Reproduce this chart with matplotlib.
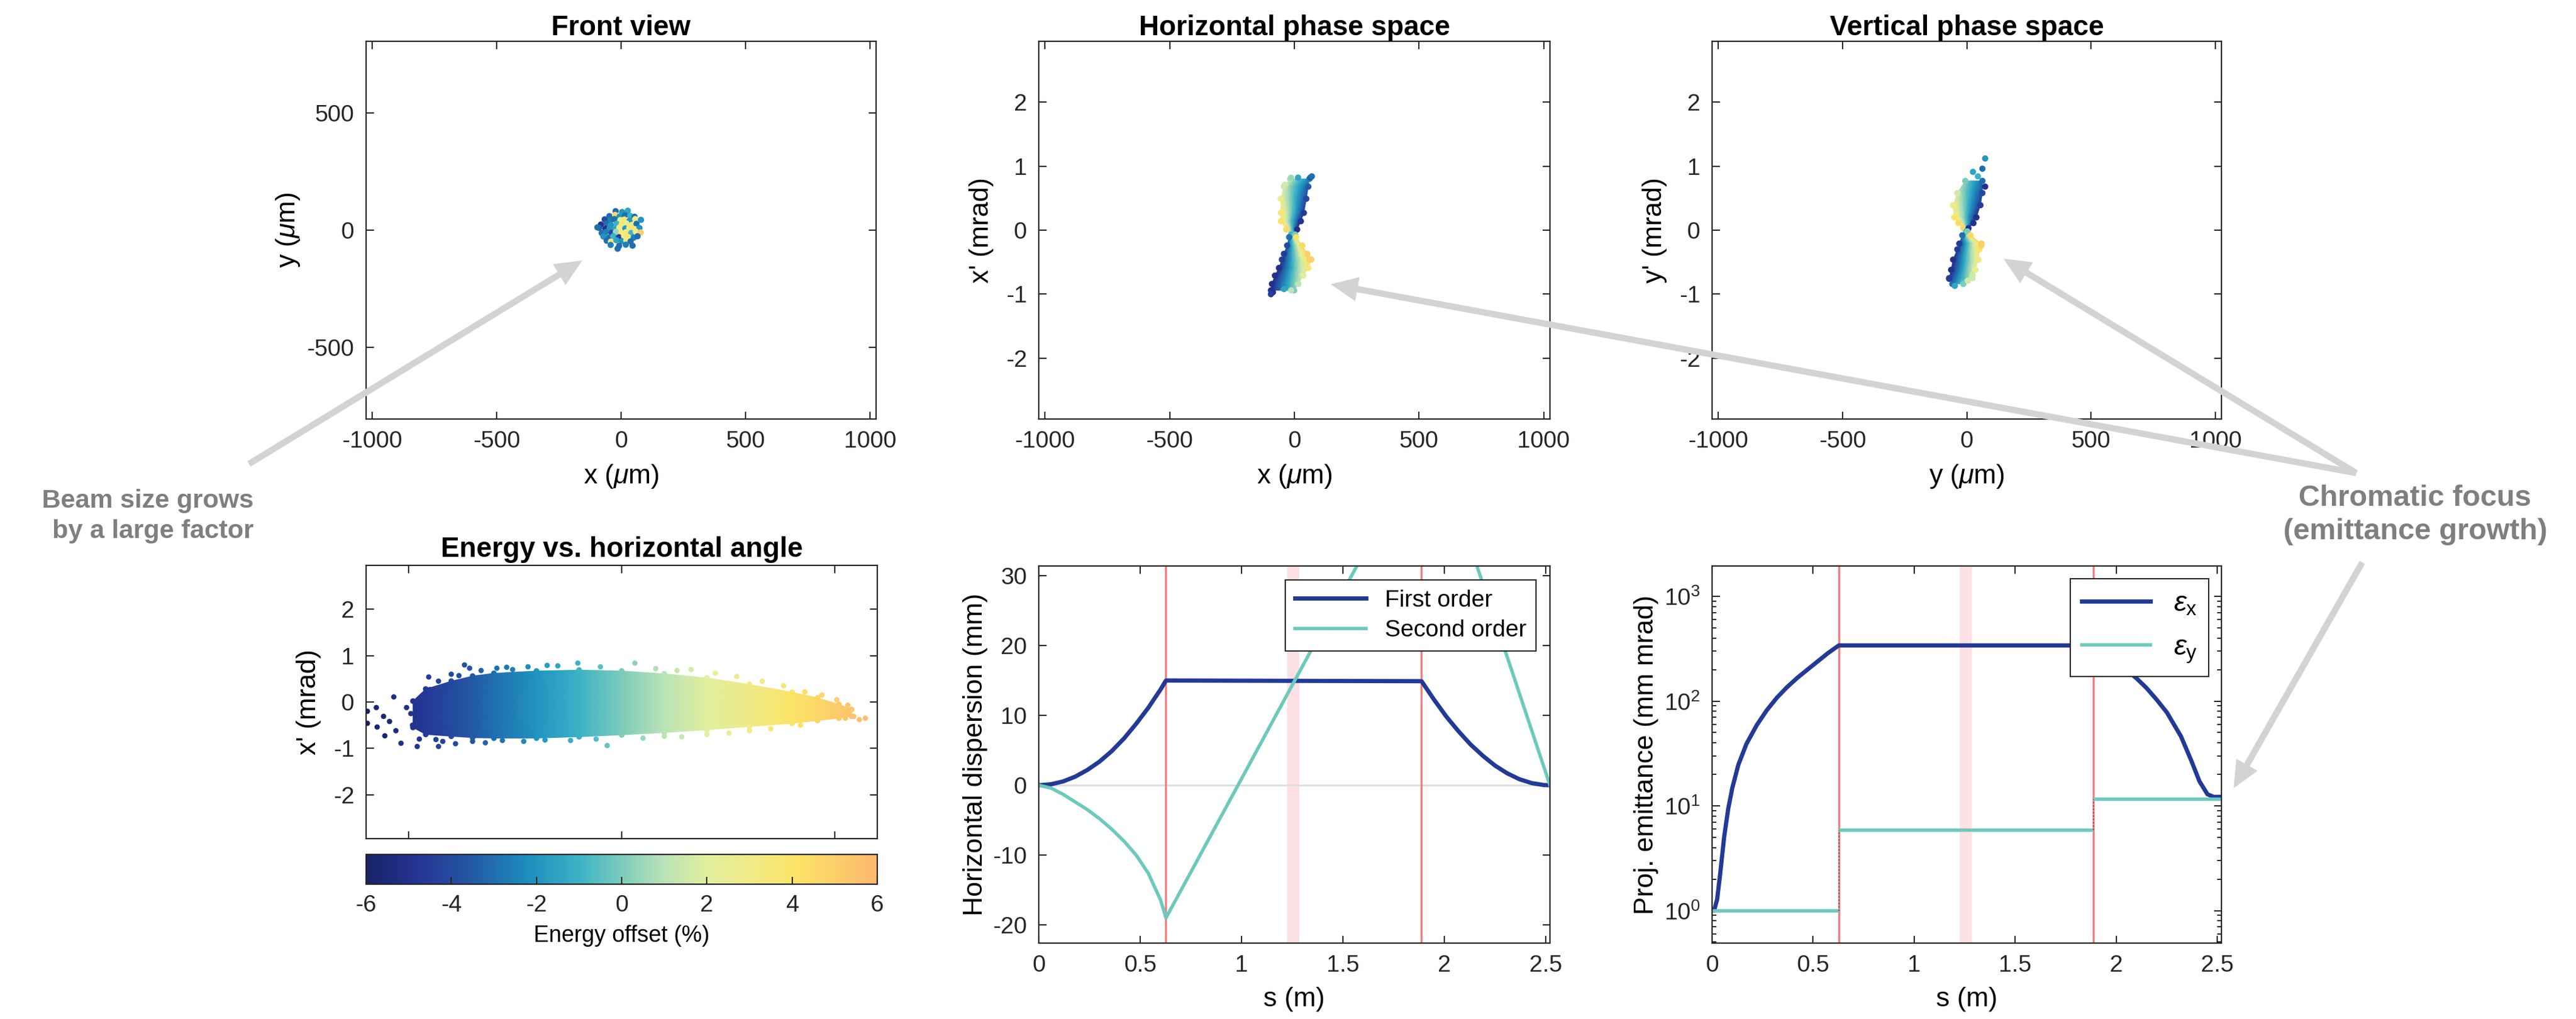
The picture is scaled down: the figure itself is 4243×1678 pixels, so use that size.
import numpy as np
import matplotlib
matplotlib.use('Agg')
import matplotlib.pyplot as plt
from matplotlib.colors import LinearSegmentedColormap, Normalize
from matplotlib.cm import ScalarMappable
from matplotlib.patches import FancyArrowPatch
from matplotlib.lines import Line2D

plt.rcParams['font.family'] = ['Liberation Sans', 'DejaVu Sans']
plt.rcParams['mathtext.fontset'] = 'custom'
plt.rcParams['mathtext.rm'] = 'Liberation Sans'
plt.rcParams['mathtext.it'] = 'Liberation Sans:italic'
plt.rcParams['axes.unicode_minus'] = False

# ---- particle data (energy offset in % gives the colour) ----
front_x = [-22, 4, 27,
           -47, -24, -6, 16, 37, 54,
           -66, -43, -27, -3, 13, 34, 57,
           -81, -58, -41, -18, 2, 21, 42, 62,
           -88, -63, -46, -24, -7, 17, 33, 56, 74,
           -78, -61, -38, -21, 1, 19, 41, 59, 79,
           -71, -48, -31, -9, 12, 28, 51, 66,
           -58, -41, -19, 2, 21, 38,
           -42, -8, 19, 46,
           -14, -95, 80]
front_y = [81, 77, 83,
           60, 65, 58, 63, 61, 57,
           46, 41, 47, 43, 45, 40, 47,
           24, 28, 23, 27, 25, 29, 22, 27,
           10, 6, 9, 5, 11, 7, 10, 4, 9,
           -12, -8, -11, -7, -13, -9, -12, -6, -10,
           -27, -31, -26, -30, -25, -29, -32, -26,
           -45, -49, -43, -47, -44, -48,
           -63, -67, -62, -66,
           -79, 12, 44]
front_e = [-3, -2, -1.5,
           -3, 4.5, -2, -3, -1, -3,
           -4, -2.5, -3, 2, 3.5, -2, 3,
           -5, -3, -2, -1, 3.5, 2.5, 3.5, -3,
           -3.5, -5, -2, -1.5, 3, -2, 3.5, 3, -2,
           -3, -2.5, -4, 0.5, 3.5, 3.5, -1, 3, 5,
           -2, -3, -1, -4.5, 3, 3.5, -2.5, -3,
           -3, 3.5, -1.5, -2, 3, -3,
           -2.5, -3, -2.5, -3,
           -3, -3, -2]

# horizontal phase space, rows of (x', left x, right x) for both lobes
hx_up_xp = [0.80, 0.68, 0.49, 0.27, 0.14, 0.01, -0.07]
hx_up_left = [-17, -42, -55, -54, -54, -33, -13]
hx_up_right = [60, 56, 48, 38, 26, 11, 3]
hx_up_eleft = [1.0, 1.5, 2.5, 3.5, 4.0, 4.5, 0.0]
hx_up_eright = [-2.5, -3.5, -4.0, -4.5, -5.0, -5.0, -1.0]

hx_lo_xp = [-0.07, -0.11, -0.24, -0.37, -0.46, -0.59, -0.71, -0.84, -0.94]
hx_lo_left = [-13, -21, -29, -42, -50, -62, -78, -90, -94]
hx_lo_right = [3, 7, 32, 52, 68, 56, 36, 16, -1]
hx_lo_eleft = [-1.0, -3.0, -4.0, -4.5, -4.5, -5.0, -5.0, -5.0, -5.0]
hx_lo_eright = [0.0, 4.0, 4.5, 5.0, 5.0, 3.5, 2.0, 1.0, 0.0]

hx_stray_x = [-13, 15, 64, -37, -86, -42, -13, 60, -94, 70]
hx_stray_xp = [0.82, 0.82, 0.82, 0.71, -0.97, -0.92, -0.94, -0.45, -1.0, 0.84]
hx_stray_e = [0.5, -1.5, -3.5, 1.5, -5.0, -1.5, 1.0, 5.0, -4.5, -3.0]

# vertical phase space
vy_up_yp = [0.77, 0.58, 0.39, 0.20, 0.11, 0.03, -0.02]
vy_up_left = [-6, -38, -55, -50, -34, -14, -2]
vy_up_right = [63, 63, 55, 39, 27, 7, 2]
vy_up_eleft = [0.0, 1.5, 3.0, 4.0, 4.5, 4.5, 0.0]
vy_up_eright = [-3.0, -4.0, -4.5, -5.0, -5.0, -5.0, -1.0]

vy_lo_yp = [-0.02, -0.08, -0.21, -0.30, -0.46, -0.62, -0.75, -0.84]
vy_lo_left = [-2, -18, -30, -38, -55, -63, -71, -58]
vy_lo_right = [2, 15, 59, 51, 47, 35, 23, -14]
vy_lo_eleft = [-1.0, -3.0, -4.5, -4.5, -5.0, -5.0, -4.5, -3.0]
vy_lo_eright = [0.0, 4.5, 5.0, 4.0, 3.0, 2.5, 1.5, 0.0]

vy_stray_y = [74, 63, 25, 45, 74, -48, -71, 4, 23, 59]
vy_stray_yp = [1.12, 0.96, 0.91, 0.84, 0.68, -0.87, -0.76, -0.79, -0.70, -0.24]
vy_stray_e = [-2.0, -3.0, -1.5, -1.0, -5.0, -1.5, -4.5, 1.5, 1.5, 5.0]

# energy vs. horizontal angle: dense core envelope plus loose particles
core_e = [-4.9, -4.6, -4.0, -3.5, -3.0, -2.0, -1.0, 0.0, 1.0, 2.0, 3.0, 4.0, 4.6, 5.1, 5.4]
core_top = [0.02, 0.28, 0.45, 0.56, 0.62, 0.67, 0.69, 0.67, 0.61, 0.52, 0.38, 0.21, 0.09, -0.05, -0.16]
core_bot = [-0.55, -0.70, -0.74, -0.77, -0.78, -0.78, -0.75, -0.71, -0.66, -0.60, -0.53, -0.46, -0.40, -0.35, -0.31]

loose_e = [-5.97, -5.97, -5.76, -5.59, -5.56, -5.74, -5.35, -5.18, -5.05, -4.91, -4.80, -4.71,
           -4.53, -4.50, -4.36, -4.30, -4.23, -4.10, -3.82, -3.69, -3.57, -2.93, -2.56, -1.75,
           -1.03, 0.31, 1.63, -0.34, 1.41, 2.52, 4.70, 5.05, 5.31, 5.25, 5.45, 5.72, 5.58,
           -4.2, -3.9, -3.5, -3.2, -2.8, -2.3, -1.8, -1.2, -0.6, 0.5, 1.0, 2.0, 3.0, 3.5, 4.2,
           -4.3, -4.0, -3.3, -2.7, -2.2, -1.5, -0.5, 0.8, 1.3, 2.2, 2.7, 3.3, 3.8, 4.3,
           -5.3, -4.95, -4.75, -5.45, -4.65]
loose_xp = [-0.46, -0.20, -0.12, -0.31, -0.73, -0.54, 0.11, -0.89, -0.12, -0.50, -0.96, 0.11,
            0.54, 0.27, -0.81, -0.96, -0.35, 0.35, 0.57, 0.80, 0.73, 0.73, 0.70, 0.79,
            0.84, 0.84, 0.70, -0.94, -0.75, -0.67, 0.15, 0.05, -0.07, -0.35, -0.31, -0.35, -0.38,
            -0.85, -0.90, -0.85, -0.88, -0.83, -0.85, -0.82, -0.83, -0.80, -0.78, -0.74, -0.70,
            -0.62, -0.58, -0.50,
            0.45, 0.60, 0.68, 0.75, 0.76, 0.78, 0.76, 0.72, 0.68, 0.62, 0.55, 0.45, 0.35, 0.22,
            -0.62, -0.25, -0.80, -0.42, 0.02]

# ---- beamline functions ----
disp_s1 = [0, 0.06, 0.12, 0.18, 0.24, 0.30, 0.36, 0.42, 0.48, 0.54, 0.60, 0.627,
           1.887, 1.95, 2.01, 2.07, 2.13, 2.19, 2.25, 2.31, 2.37, 2.43, 2.49, 2.52]
disp_first = [0, 0.14, 0.55, 1.24, 2.2, 3.4, 4.9, 6.7, 8.8, 11.1, 13.7, 15.0,
              14.9, 12.2, 9.8, 7.7, 5.8, 4.2, 2.8, 1.7, 0.86, 0.31, 0.03, 0.0]
disp_s2 = [0, 0.06, 0.12, 0.18, 0.24, 0.30, 0.36, 0.42, 0.48, 0.54, 0.60, 0.627,
           0.982, 1.887, 2.0, 2.16, 2.52]
disp_second = [0, -0.4, -1.3, -2.4, -3.5, -4.8, -6.3, -8.0, -10.0, -12.6, -16.4, -19.0,
               0.0, 48.5, 45.0, 31.4, 0.0]

emit_s = [0, 0.01, 0.025, 0.04, 0.06, 0.08, 0.10, 0.13, 0.17, 0.221, 0.271, 0.321, 0.371,
          0.422, 0.472, 0.522, 0.572, 0.627, 1.887, 1.95, 2.0, 2.049, 2.10, 2.15, 2.20,
          2.25, 2.32, 2.371, 2.411, 2.451, 2.481, 2.52]
emit_x = [1.0, 1.0, 1.28, 2.24, 5.1, 9.4, 14.8, 24.7, 39, 59, 82, 108, 136,
          167, 200, 239, 286, 340, 340, 309, 243, 199, 165, 133, 103,
          78, 46, 27, 17.2, 12.9, 12.2, 12.2]
emit_y_edges = [0, 0.627, 1.887, 2.52]
emit_y = [1.0, 5.85, 11.6]

dipole_s = [0.627, 1.887]
band_s = [1.225, 1.285]

# ---- styling ----
cmap = LinearSegmentedColormap.from_list('energy', [
    (0.00, '#172266'), (0.10, '#253494'), (0.20, '#2356a3'), (0.32, '#1d8fbf'),
    (0.42, '#3db4c6'), (0.50, '#7ccbbb'), (0.58, '#b8e2b8'), (0.67, '#e3ef9d'),
    (0.76, '#f1ea85'), (0.84, '#fbe466'), (1.00, '#fdb86e')])
norm = Normalize(-6, 6)
navy = '#233a95'
teal = '#6dc9bc'
red = '#f27f80'
ink = '#262626'
TICK = 28
LABEL = 32
TITLE = 33

W, H = 4243, 1678
fig = plt.figure(figsize=(W / 100, H / 100), dpi=100, facecolor='white')


def box(l, t, r, b):
    return [l / W, 1 - b / H, (r - l) / W, (b - t) / H]


def style(ax):
    ax.tick_params(direction='in', top=True, right=True, length=9, width=1.5,
                   labelsize=TICK, colors=ink, pad=14)
    ax.tick_params(which='minor', direction='in', top=True, right=True, length=5, width=1.2)
    for sp in ax.spines.values():
        sp.set_linewidth(1.6)
        sp.set_color(ink)


def lobe(ax, yv, left, right, eleft, eright):
    frac = np.linspace(0, 1, 7)
    yv, left, right = np.array(yv), np.array(left), np.array(right)
    eleft, eright = np.array(eleft), np.array(eright)
    X = left[:, None] + (right - left)[:, None] * frac
    Y = np.repeat(yv[:, None], len(frac), axis=1)
    C = eleft[:, None] + (eright - eleft)[:, None] * frac
    ax.pcolormesh(X, Y, C, cmap=cmap, norm=norm, shading='gouraud')
    # particles sitting on the outline of the lobe
    ax.scatter(left, yv, c=eleft, cmap=cmap, norm=norm, s=55, linewidths=0)
    ax.scatter(right, yv, c=eright, cmap=cmap, norm=norm, s=55, linewidths=0)


# front view
ax1 = fig.add_axes(box(603, 68, 1443, 690))
ax1.scatter(front_x, front_y, c=front_e, cmap=cmap, norm=norm, s=55, linewidths=0)
ax1.set_xlim(-1025, 1025)
ax1.set_ylim(-805, 805)
ax1.set_xticks([-1000, -500, 0, 500, 1000])
ax1.set_yticks([-500, 0, 500])
ax1.set_title('Front view', fontsize=TITLE, fontweight='bold', pad=7)
ax1.set_xlabel(r'x ($\mu$m)', fontsize=LABEL, labelpad=12)
ax1.set_ylabel(r'y ($\mu$m)', fontsize=LABEL, labelpad=6)

# horizontal phase space
ax2 = fig.add_axes(box(1711, 68, 2553, 690))
lobe(ax2, hx_up_xp, hx_up_left, hx_up_right, hx_up_eleft, hx_up_eright)
lobe(ax2, hx_lo_xp, hx_lo_left, hx_lo_right, hx_lo_eleft, hx_lo_eright)
ax2.scatter(hx_stray_x, hx_stray_xp, c=hx_stray_e, cmap=cmap, norm=norm, s=55, linewidths=0)
ax2.set_xlim(-1025, 1025)
ax2.set_ylim(-2.95, 2.95)
ax2.set_xticks([-1000, -500, 0, 500, 1000])
ax2.set_yticks([-2, -1, 0, 1, 2])
ax2.set_title('Horizontal phase space', fontsize=TITLE, fontweight='bold', pad=7)
ax2.set_xlabel(r'x ($\mu$m)', fontsize=LABEL, labelpad=12)
ax2.set_ylabel("x' (mrad)", fontsize=LABEL, labelpad=14)

# vertical phase space
ax3 = fig.add_axes(box(2820, 68, 3659, 690))
lobe(ax3, vy_up_yp, vy_up_left, vy_up_right, vy_up_eleft, vy_up_eright)
lobe(ax3, vy_lo_yp, vy_lo_left, vy_lo_right, vy_lo_eleft, vy_lo_eright)
ax3.scatter(vy_stray_y, vy_stray_yp, c=vy_stray_e, cmap=cmap, norm=norm, s=55, linewidths=0)
ax3.set_xlim(-1025, 1025)
ax3.set_ylim(-2.95, 2.95)
ax3.set_xticks([-1000, -500, 0, 500, 1000])
ax3.set_yticks([-2, -1, 0, 1, 2])
ax3.set_title('Vertical phase space', fontsize=TITLE, fontweight='bold', pad=7)
ax3.set_xlabel(r'y ($\mu$m)', fontsize=LABEL, labelpad=12)
ax3.set_ylabel("y' (mrad)", fontsize=LABEL, labelpad=14)

# energy vs. angle
ax4 = fig.add_axes(box(603, 931, 1445, 1381))
ce = np.array(core_e)
ax4.pcolormesh(np.column_stack([ce, ce]), np.column_stack([core_bot, core_top]),
               np.column_stack([ce, ce]), cmap=cmap, norm=norm, shading='gouraud')
ax4.scatter(core_e + core_e, core_top + core_bot, c=core_e + core_e, cmap=cmap, norm=norm,
            s=45, linewidths=0)
ax4.scatter(loose_e, loose_xp, c=loose_e, cmap=cmap, norm=norm, s=40, linewidths=0)
ax4.set_xlim(-6, 6)
ax4.set_ylim(-2.95, 2.95)
ax4.set_xticks([-5, 0, 5])
ax4.set_xticklabels([])
ax4.set_yticks([-2, -1, 0, 1, 2])
ax4.set_title('Energy vs. horizontal angle', fontsize=TITLE, fontweight='bold', pad=10)
ax4.set_ylabel("x' (mrad)", fontsize=LABEL, labelpad=14)

cax = fig.add_axes(box(603, 1407, 1445, 1456))
cb = fig.colorbar(ScalarMappable(norm=norm, cmap=cmap), cax=cax, orientation='horizontal',
                  ticks=[-6, -4, -2, 0, 2, 4, 6])
cb.outline.set_linewidth(1.6)
cb.outline.set_edgecolor(ink)
cax.tick_params(direction='in', length=9, width=1.5, labelsize=TICK, colors=ink, pad=12)
cb.set_label('Energy offset (%)', fontsize=27, labelpad=10)

# dispersion
ax5 = fig.add_axes(box(1711, 932, 2553, 1553))
ax5.axvspan(band_s[0], band_s[1], color='#fde1e5', lw=0)
ax5.axhline(0, color='#dcdcdc', lw=2)
for s0 in dipole_s:
    ax5.axvline(s0, color=red, lw=2.5)
ax5.plot(disp_s1, disp_first, color=navy, lw=5)
ax5.plot(disp_s2, disp_second, color=teal, lw=4)
ax5.set_xlim(0, 2.52)
ax5.set_ylim(-22.6, 31.4)
ax5.set_xticks([0, 0.5, 1, 1.5, 2, 2.5])
ax5.set_xticklabels(['0', '0.5', '1', '1.5', '2', '2.5'])
ax5.set_yticks([-20, -10, 0, 10, 20, 30])
ax5.set_xlabel('s (m)', fontsize=LABEL, labelpad=12)
ax5.set_ylabel('Horizontal dispersion (mm)', fontsize=LABEL, labelpad=6)
h5 = [Line2D([], [], color=navy, lw=5, marker='.', markersize=5),
      Line2D([], [], color=teal, lw=4, marker='.', markersize=5)]
leg5 = ax5.legend(h5, ['First order', 'Second order'], loc='upper right', fontsize=TICK,
                  frameon=True, fancybox=False, framealpha=1, edgecolor=ink,
                  handlelength=3.0, borderaxespad=0.6, labelspacing=0.35)
leg5.get_frame().set_linewidth(1.5)

# emittance
ax6 = fig.add_axes(box(2820, 932, 3659, 1553))
ax6.axvspan(band_s[0], band_s[1], color='#fde1e5', lw=0)
for s0 in dipole_s:
    ax6.axvline(s0, color=red, lw=2.5)
ax6.semilogy(emit_s, emit_x, color=navy, lw=5)
for i in range(len(emit_y)):
    ax6.plot(emit_y_edges[i:i + 2], [emit_y[i], emit_y[i]], color=teal, lw=4,
             solid_capstyle='butt')
for i in range(1, len(emit_y)):
    ax6.plot([emit_y_edges[i], emit_y_edges[i]], [emit_y[i - 1], emit_y[i]],
             color='#6b5b5b', lw=1.5, ls=':')
ax6.set_xlim(0, 2.52)
ax6.set_ylim(0.49, 1950)
ax6.set_xticks([0, 0.5, 1, 1.5, 2, 2.5])
ax6.set_xticklabels(['0', '0.5', '1', '1.5', '2', '2.5'])
ax6.set_xlabel('s (m)', fontsize=LABEL, labelpad=12)
ax6.set_ylabel('Proj. emittance (mm mrad)', fontsize=LABEL, labelpad=6)
h6 = [Line2D([], [], color=navy, lw=5, marker='.', markersize=5),
      Line2D([], [], color=teal, lw=4, marker='.', markersize=5)]
leg6 = ax6.legend(h6, [r'$\epsilon_\mathregular{x}$', r'$\epsilon_\mathregular{y}$'],
                  loc='upper right', fontsize=34, frameon=True, fancybox=False,
                  framealpha=1, edgecolor=ink, handlelength=2.4, borderaxespad=0.45,
                  labelspacing=0.6)
leg6.get_frame().set_linewidth(1.5)

for ax in (ax1, ax2, ax3, ax4, ax5, ax6):
    style(ax)

# annotations
grey_txt = '#7f7f7f'
fig.text(418 / W, 1 - 850 / H, 'Beam size grows\nby a large factor', ha='right', va='center',
         fontsize=31, fontweight='bold', color=grey_txt, linespacing=1.35)
fig.text(3978 / W, 1 - 848 / H, 'Chromatic focus\n(emittance growth)', ha='center', va='center',
         fontsize=35, fontweight='bold', color=grey_txt, linespacing=1.3)

arrows = [((410, 764), (959, 429)),
          ((3881, 779), (2192, 468)),
          ((3881, 779), (3300, 426)),
          ((3891, 926), (3679, 1298))]
for (x0, y0), (x1, y1) in arrows:
    fig.add_artist(FancyArrowPatch((x0 / W, 1 - y0 / H), (x1 / W, 1 - y1 / H),
                                   transform=fig.transFigure,
                                   arrowstyle='simple,head_length=32,head_width=29,tail_width=7.5',
                                   mutation_scale=1, color='#d3d3d3', lw=0,
                                   shrinkA=0, shrinkB=0, zorder=10))

fig.savefig('out.png', dpi=100, facecolor='white')
